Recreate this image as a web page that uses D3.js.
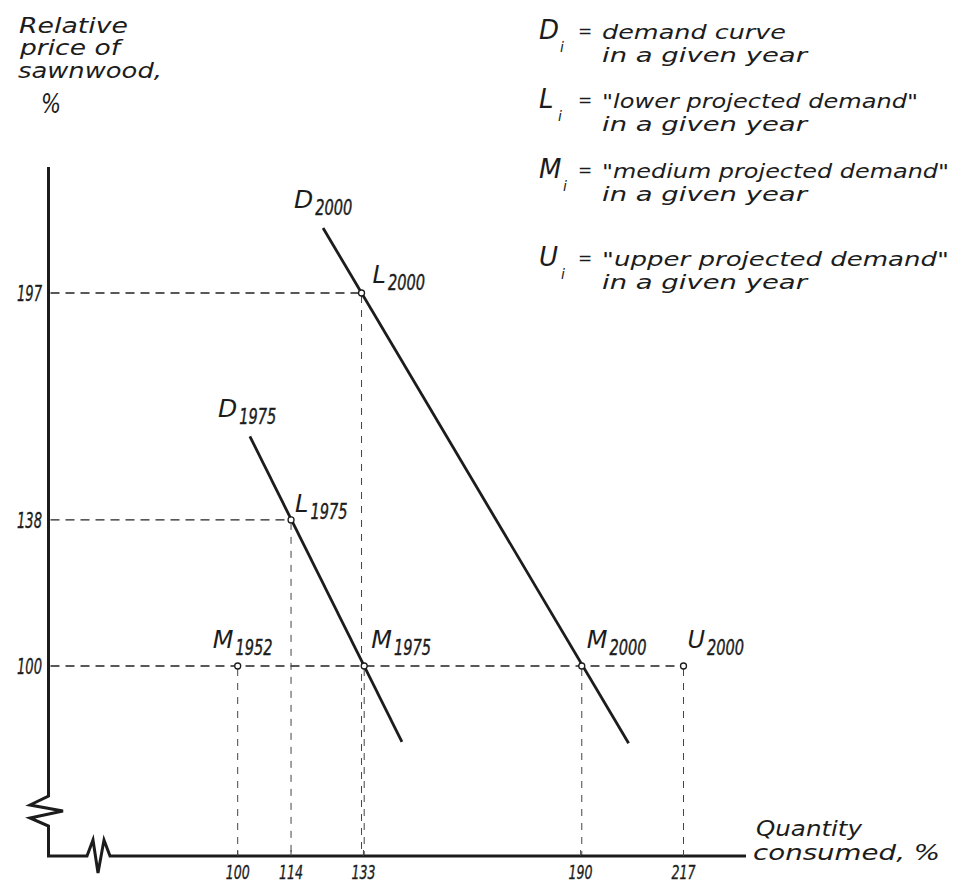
<!DOCTYPE html>
<html>
<head>
<meta charset="utf-8">
<script src="https://cdn.jsdelivr.net/npm/d3@7"></script>
<style>
  html, body { margin: 0; padding: 0; background: #ffffff; }
  svg { display: block; }
</style>
</head>
<body>
<div id="chart"></div>
<script>
// ---------------- DATA ----------------
const xTickValues = [100, 114, 133, 190, 217];
const xTickLabels = ["100", "114", "133", "190", "217"];
const yTickValues = [100, 138, 197];
const yTickLabels = ["100", "138", "197"];

// projected demand points (quantity %, relative price %)
const pointLetters = ["M", "L", "L", "M", "M", "U"];
const pointYears   = ["1952", "1975", "2000", "1975", "2000", "2000"];
const pointQty     = [100, 114, 132.5, 133.2, 190.3, 217];
const pointPrice   = [100, 138, 197, 100, 100, 100];

// demand curves (end points of the drawn straight segments)
const curveYears       = ["1975", "2000"];
const curveStartQty    = [103.2, 122.4];
const curveStartPrice  = [159.7, 213.9];
const curveEndQty      = [143.1, 202.6];
const curveEndPrice    = [80.3, 79.9];

// texts
const yTitleLines = ["Relative", "price of", "sawnwood,", "%"];
const xTitleLines = ["Quantity", "consumed, %"];
const legendLetters = ["D", "L", "M", "U"];
const legendLine1 = ["demand curve", "\"lower projected demand\"", "\"medium projected demand\"", "\"upper projected demand\""];
const legendLine2 = ["in a given year", "in a given year", "in a given year", "in a given year"];

// ---------------- LAYOUT / STYLE ----------------
const W = 961, H = 884;
const INK = "#1c1c1c";
const letterFont = "'DejaVu Sans', 'Open Sans', sans-serif";
const narrowFont = "'Liberation Sans Narrow', 'DejaVu Sans Condensed', 'Liberation Sans', sans-serif";

const axisX = 48.5, axisY = 856, axisTop = 167, axisRight = 746;

const x = d3.scaleLinear().domain([100, 217]).range([237.7, 683.5]);
const y = d3.scaleLinear().domain([100, 197]).range([666, 293]);

const svg = d3.select("#chart").append("svg")
  .attr("width", W).attr("height", H)
  .style("background", "#ffffff");

// ---------- dashed guide lines ----------
const points = pointLetters.map((l, i) => ({
  letter: l, year: pointYears[i], q: pointQty[i], p: pointPrice[i]
}));

const guides = svg.append("g");
const priceLevels = Array.from(new Set(pointPrice));
priceLevels.forEach(pv => {
  const maxQ = d3.max(points.filter(d => d.p === pv), d => d.q);
  guides.append("line")
    .attr("x1", axisX + 2).attr("x2", x(maxQ))
    .attr("y1", y(pv)).attr("y2", y(pv))
    .attr("stroke", "#222").attr("stroke-width", 1.4)
    .attr("stroke-dasharray", "9,6");
});
points.forEach(d => {
  guides.append("line")
    .attr("x1", x(d.q)).attr("x2", x(d.q))
    .attr("y1", y(d.p) + 3).attr("y2", axisY)
    .attr("stroke", "#444").attr("stroke-width", 1)
    .attr("stroke-dasharray", "7,7");
});

// ---------- axes with breaks ----------
const axes = svg.append("g").attr("fill", "none").attr("stroke", INK)
  .attr("stroke-width", 3).attr("stroke-linejoin", "miter").attr("stroke-linecap", "butt");

axes.append("path").attr("d", d3.line()([
  [axisX, axisTop], [axisX, 796], [30, 805], [63, 811], [30, 818], [axisX, 826], [axisX, axisY],
  [87, axisY], [93, 840], [98, 873], [104, 840], [110, axisY], [axisRight, axisY]
]));

svg.append("g").selectAll("line").data(xTickValues).join("line")
  .attr("x1", d => x(d)).attr("x2", d => x(d))
  .attr("y1", axisY - 6).attr("y2", axisY)
  .attr("stroke", "#444").attr("stroke-width", 1);

// tick labels (condensed italic)
svg.append("g").selectAll("text").data(xTickValues).join("text")
  .attr("x", d => x(d)).attr("y", 879)
  .attr("text-anchor", "middle")
  .attr("font-family", narrowFont).attr("font-style", "italic")
  .attr("font-size", 20).attr("fill", INK)
  .attr("stroke", INK).attr("stroke-width", 0.35)
  .attr("textLength", 24).attr("lengthAdjust", "spacingAndGlyphs")
  .text((d, i) => xTickLabels[i]);

svg.append("g").selectAll("text").data(yTickValues).join("text")
  .attr("x", 42).attr("y", d => y(d) + 8)
  .attr("text-anchor", "end")
  .attr("font-family", narrowFont).attr("font-style", "italic")
  .attr("font-size", 21).attr("fill", INK)
  .attr("stroke", INK).attr("stroke-width", 0.35)
  .attr("textLength", 25).attr("lengthAdjust", "spacingAndGlyphs")
  .text((d, i) => yTickLabels[i]);

// ---------- demand curves ----------
const curves = curveYears.map((yr, i) => ({
  year: yr,
  pts: [[curveStartQty[i], curveStartPrice[i]], [curveEndQty[i], curveEndPrice[i]]]
}));
const lineGen = d3.line().x(d => x(d[0])).y(d => y(d[1]));
svg.append("g").selectAll("path").data(curves).join("path")
  .attr("d", d => lineGen(d.pts))
  .attr("fill", "none").attr("stroke", INK).attr("stroke-width", 2.8);

function subLabel(sel, letter, year, letterSize) {
  sel.append("tspan").attr("font-family", letterFont).attr("font-style", "italic")
    .attr("font-size", letterSize).text(letter);
  sel.append("tspan").attr("font-family", narrowFont).attr("font-style", "italic")
    .attr("font-size", 21).attr("dx", 2).attr("dy", 7)
    .attr("stroke", INK).attr("stroke-width", 0.4)
    .attr("textLength", 37).attr("lengthAdjust", "spacingAndGlyphs")
    .text(year);
}

const curveLabelOffset = [[-32, -19], [-29, -20]];
curves.forEach((c, i) => {
  const t = svg.append("text")
    .attr("x", x(c.pts[0][0]) + curveLabelOffset[i][0])
    .attr("y", y(c.pts[0][1]) + curveLabelOffset[i][1]).attr("fill", INK);
  subLabel(t, "D", c.year, 25);
});

// ---------- points ----------
svg.append("g").selectAll("circle").data(points).join("circle")
  .attr("cx", d => x(d.q)).attr("cy", d => y(d.p)).attr("r", 3)
  .attr("fill", "#fff").attr("stroke", INK).attr("stroke-width", 1.3);

const pointLabelOffset = [[-25, -18], [4, -8], [11, -10], [7, -18], [5, -18], [4, -18]];
points.forEach((d, i) => {
  const t = svg.append("text")
    .attr("x", x(d.q) + pointLabelOffset[i][0])
    .attr("y", y(d.p) + pointLabelOffset[i][1]).attr("fill", INK);
  subLabel(t, d.letter, d.year, 24);
});

// ---------- axis titles ----------
const yTitleX = [19, 20, 18, 41];
const yTitleY = [33, 55, 78, 113];
const yTitleLen = [109, 100, 144, 20];
const yTitleSize = [21, 21, 21, 26];
yTitleLines.forEach((s, i) => {
  svg.append("text").attr("x", yTitleX[i]).attr("y", yTitleY[i])
    .attr("font-family", letterFont).attr("font-style", "italic")
    .attr("font-size", yTitleSize[i]).attr("fill", INK)
    .attr("textLength", yTitleLen[i]).attr("lengthAdjust", "spacingAndGlyphs")
    .text(s);
});

const xTitleX = [756, 753];
const xTitleY = [836, 860];
const xTitleLen = [106, 187];
xTitleLines.forEach((s, i) => {
  svg.append("text").attr("x", xTitleX[i]).attr("y", xTitleY[i])
    .attr("font-family", letterFont).attr("font-style", "italic")
    .attr("font-size", 21).attr("fill", INK)
    .attr("textLength", xTitleLen[i]).attr("lengthAdjust", "spacingAndGlyphs")
    .text(s);
});

// ---------- legend ----------
const legRowY = [39, 108, 178, 266];
const legSubX = [560, 558, 563, 561];
const legLine1Len = [184, 316, 347, 347];
const legLine2Len = [205, 205, 205, 205];
const legend = svg.append("g").attr("fill", INK);
legendLetters.forEach((L, i) => {
  const by = legRowY[i];
  legend.append("text").attr("x", 539).attr("y", by)
    .attr("font-family", letterFont).attr("font-style", "italic")
    .attr("font-size", 26).text(L);
  legend.append("text").attr("x", legSubX[i]).attr("y", by + 13)
    .attr("font-family", letterFont).attr("font-style", "italic")
    .attr("font-size", 14).text("i");
  legend.append("text").attr("x", 578).attr("y", by - 2)
    .attr("font-family", letterFont)
    .attr("font-size", 17).text("=");
  legend.append("text").attr("x", 602).attr("y", by)
    .attr("font-family", letterFont).attr("font-style", "italic")
    .attr("font-size", 19)
    .attr("textLength", legLine1Len[i]).attr("lengthAdjust", "spacingAndGlyphs")
    .text(legendLine1[i]);
  legend.append("text").attr("x", 602).attr("y", by + 23)
    .attr("font-family", letterFont).attr("font-style", "italic")
    .attr("font-size", 19)
    .attr("textLength", legLine2Len[i]).attr("lengthAdjust", "spacingAndGlyphs")
    .text(legendLine2[i]);
});
</script>
</body>
</html>
